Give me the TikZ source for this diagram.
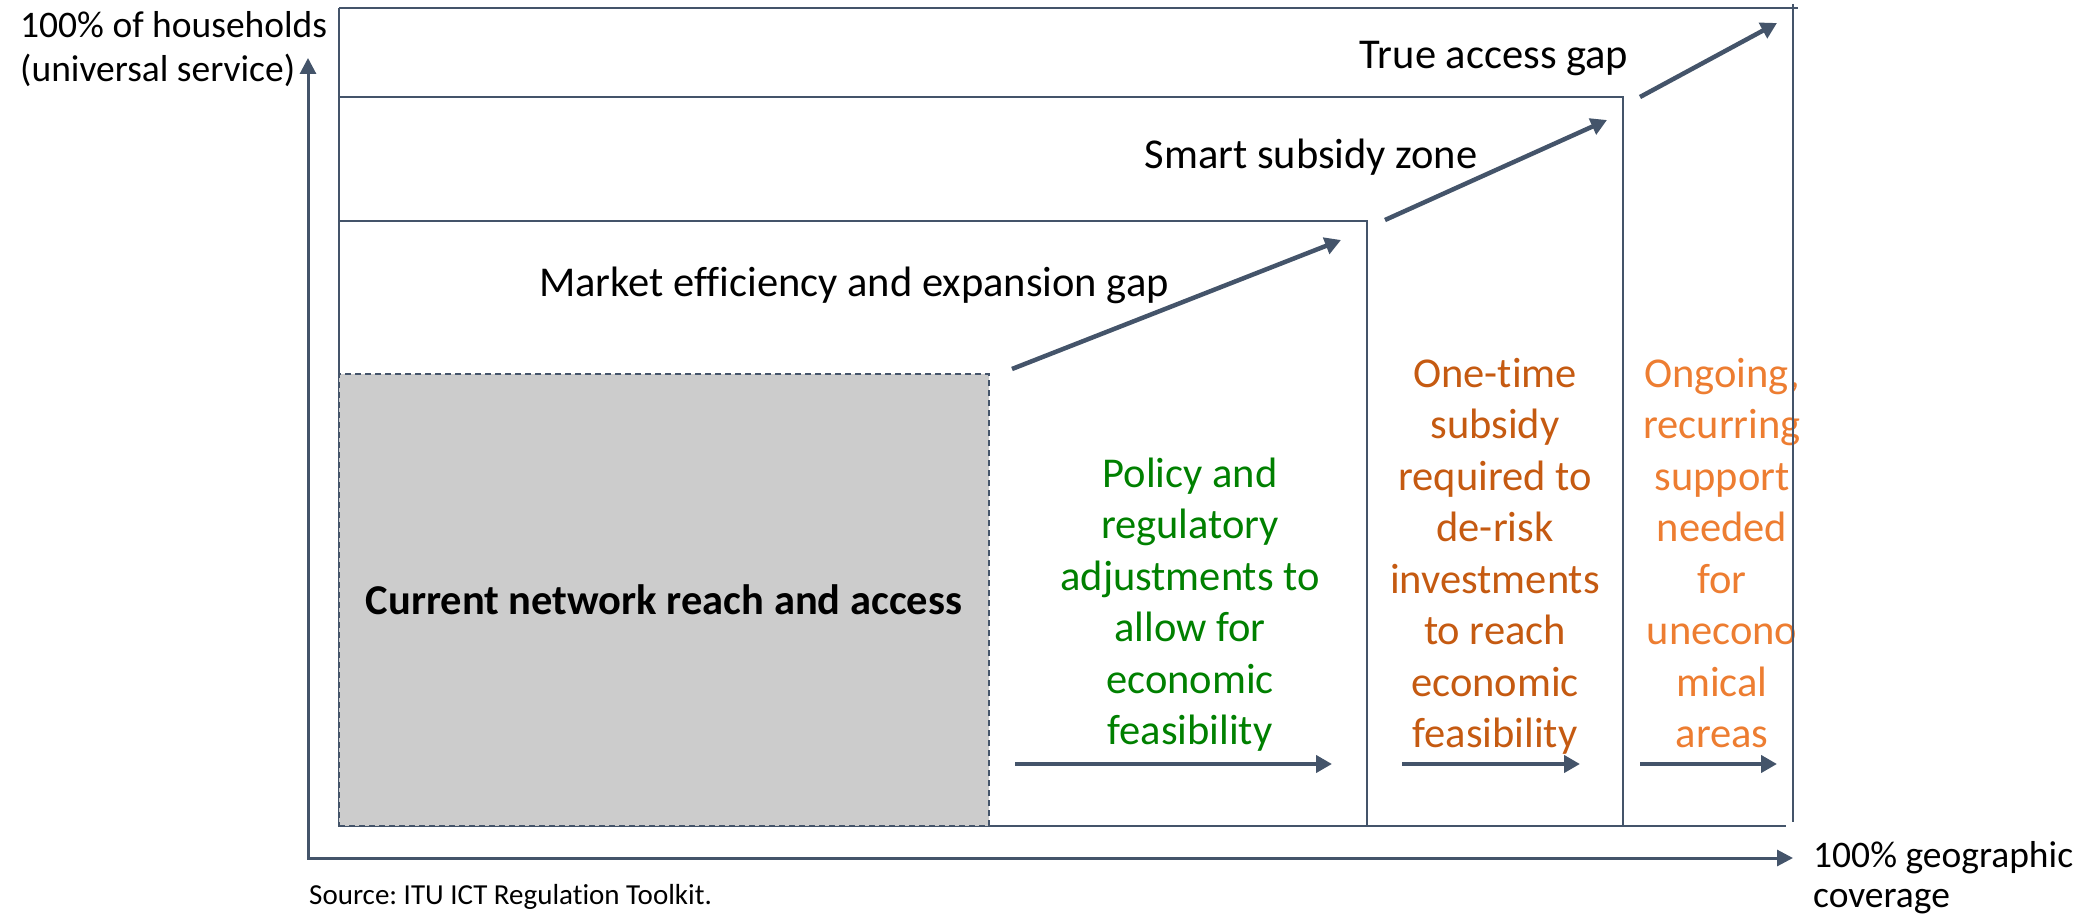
\documentclass[tikz,border=0pt]{standalone}
\usepackage{fontspec}
\setmainfont{Carlito}[Ligatures=NoCommon]
\usetikzlibrary{arrows.meta}
\definecolor{slate}{HTML}{44546A}
\definecolor{txtgreen}{HTML}{008000}
\definecolor{txtbrown}{HTML}{C55A11}
\definecolor{txtorange}{HTML}{ED7D31}
\definecolor{boxgray}{HTML}{CCCCCC}
\frenchspacing
\begin{document}
\begin{tikzpicture}[x=1pt,y=-1pt,
  frame/.style={draw=slate, line width=2.5pt},
  axis/.style={draw=slate, line width=3pt, {Triangle[length=16pt,width=16pt]}-{Triangle[length=16pt,width=16pt]}},
  bigarrow/.style={draw=slate, line width=4.5pt, -{Triangle[length=16pt,width=17pt]}},
  lbl/.style={inner sep=0pt, font=\fontsize{42.5}{51.5}\selectfont},
  axlbl/.style={inner sep=0pt, anchor=base west, font=\fontsize{37.5}{45}\selectfont},
  para/.style={inner sep=0pt, align=center, text depth=0pt, anchor=south, font=\fontsize{42.5}{51.5}\selectfont},
]
\useasboundingbox (0,0) rectangle (2082,917);

% coloured column texts
\node[para, text=txtgreen] (green) at (1190,745) {Policy and\\regulatory\\adjustments to\\allow for\\economic\\feasibility};
\node[para, text=txtbrown] (brown) at (1495,748) {One-time\\subsidy\\required to\\de-risk\\investments\\to reach\\economic\\feasibility};
\node[para, text=txtorange] (orange) at (1722,748) {Ongoing,\\recurring\\support\\needed\\for\\unecono\\mical\\areas};

% frame lines
\draw[frame] (339,8) -- (1798,8);
\draw[frame] (1793,4) -- (1793,822);
\draw[frame] (339,8) -- (339,826) -- (1786,826);
\draw[frame] (339,97) -- (1623,97) -- (1623,826);
\draw[frame] (339,221) -- (1367,221) -- (1367,826);

% current network box
\node[fill=boxgray, draw=slate, line width=1.5pt, dash pattern=on 6pt off 4pt,
      minimum width=650pt, minimum height=452pt, inner sep=0pt,
      font=\fontsize{42.5}{51.5}\selectfont\bfseries] (cur) at (664,600) {Current network reach and access};

% zone labels
\node[lbl, anchor=base] (mkt) at (854,297) {Market efficiency and expansion gap};
\node[lbl, anchor=base] (smart) at (1311,169) {Smart subsidy zone};
\node[lbl, anchor=base] (true) at (1494,69) {True access gap};

% axes
\coordinate (O) at (308,858);
\coordinate (ytip) at (308,58);
\coordinate (xtip) at (1793,858);
\draw[axis] (ytip) -- (O) -- (xtip);

\node[axlbl] (hh1) at (20,38) {100\% of households};
\node[axlbl] (hh2) at (20,82) {(universal service)};
\node[axlbl] (geo1) at (1813,867) {100\% geographic};
\node[axlbl] (geo2) at (1813,907) {coverage};
\node[inner sep=0pt, anchor=base west, font=\fontsize{29}{35}\selectfont] (src) at (309,904) {Source: ITU ICT Regulation Toolkit.};

% diagonal arrows
\coordinate (d1a) at (1012,369); \coordinate (d1b) at (1341,240);
\coordinate (d2a) at (1385,220); \coordinate (d2b) at (1607,120);
\coordinate (d3a) at (1640,97);  \coordinate (d3b) at (1777,23);
\draw[bigarrow] (d1a) -- (d1b);
\draw[bigarrow] (d2a) -- (d2b);
\draw[bigarrow] (d3a) -- (d3b);

% horizontal arrows
\coordinate (h1a) at (1015,764); \coordinate (h1b) at (1332,764);
\coordinate (h2a) at (1402,764); \coordinate (h2b) at (1580,764);
\coordinate (h3a) at (1640,764); \coordinate (h3b) at (1777,764);
\draw[bigarrow] (h1a) -- (h1b);
\draw[bigarrow] (h2a) -- (h2b);
\draw[bigarrow] (h3a) -- (h3b);
\end{tikzpicture}
\end{document}
